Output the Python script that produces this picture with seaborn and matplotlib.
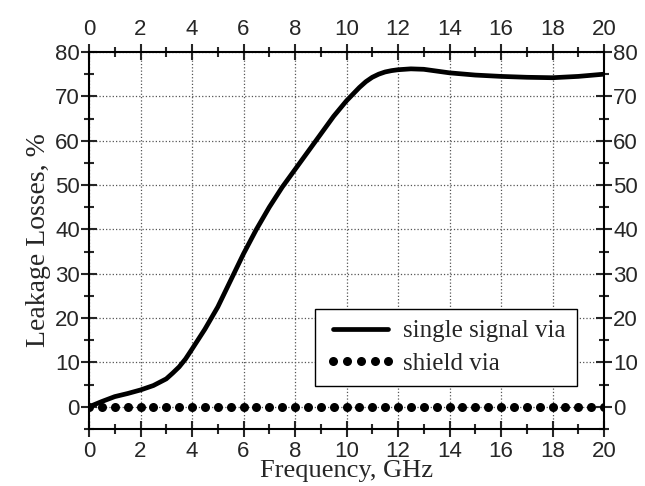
import numpy as np
import pandas as pd
import matplotlib
matplotlib.use("Agg")
import matplotlib.pyplot as plt
import seaborn as sns
from matplotlib.ticker import MultipleLocator

# 데이터
freq_signal = [0, 0.25, 0.5, 1, 1.5, 2, 2.5, 3, 3.25, 3.5, 3.75, 4, 4.5, 5, 5.5, 6, 6.5, 7,
               7.5, 8, 8.5, 9, 9.5, 10, 10.5, 10.75, 11, 11.25, 11.5, 11.75, 12, 12.5, 13,
               14, 15, 16, 17, 18, 19, 20]
loss_signal = [0, 0.6, 1.2, 2.3, 3.0, 3.8, 4.8, 6.3, 7.6, 9.0, 10.8, 13.0, 17.5, 22.5, 28.5,
               34.5, 40.0, 45.0, 49.5, 53.5, 57.5, 61.5, 65.5, 69.0, 72.0, 73.3, 74.3, 75.0,
               75.5, 75.8, 76.0, 76.2, 76.1, 75.3, 74.8, 74.5, 74.3, 74.2, 74.5, 75.0]
freq_shield = [0, 0.5, 1, 1.5, 2, 2.5, 3, 3.5, 4, 4.5, 5, 5.5, 6, 6.5, 7, 7.5, 8, 8.5, 9, 9.5,
               10, 10.5, 11, 11.5, 12, 12.5, 13, 13.5, 14, 14.5, 15, 15.5, 16, 16.5, 17, 17.5,
               18, 18.5, 19, 19.5, 20]
loss_shield = [0] * len(freq_shield)

sns.set_style("ticks")
plt.rcParams['font.family'] = ['Liberation Sans', 'DejaVu Sans']

fig = plt.figure(figsize=(6.45, 4.86), dpi=100)
ax = fig.add_axes([89 / 645, 1 - 429 / 486, (604 - 89) / 645, (429 - 52) / 486])

sns.lineplot(x=freq_signal, y=loss_signal, ax=ax, color='black', linewidth=3.4,
             solid_joinstyle='round', solid_capstyle='round', label='single signal via')
sns.lineplot(x=freq_shield, y=loss_shield, ax=ax, color='black', linestyle='none',
             marker='o', markersize=6.5, markeredgewidth=0, label='shield via')

ax.set_xlim(0, 20)
ax.set_ylim(-5, 80)
ax.xaxis.set_major_locator(MultipleLocator(2))
ax.xaxis.set_minor_locator(MultipleLocator(1))
ax.yaxis.set_major_locator(MultipleLocator(10))
ax.yaxis.set_minor_locator(MultipleLocator(5))
ax.set_yticks(np.arange(0, 81, 10))

ax.grid(True, which='major', linestyle=':', color='#555555', linewidth=0.9)
for sp in ax.spines.values():
    sp.set_linewidth(1.5)
    sp.set_color('black')

ax.tick_params(which='both', direction='inout', top=True, right=True,
               labeltop=True, labelright=True, width=1.5, labelsize=16)
ax.tick_params(which='major', length=11)
ax.tick_params(which='minor', length=7)
ax.tick_params(axis='x', which='major', pad=3)
ax.tick_params(axis='y', which='major', pad=1)

serif = ['Liberation Serif', 'DejaVu Serif']
ax.set_xlabel('Frequency, GHz', family=serif, fontsize=19, labelpad=-1)
ax.set_ylabel('Leakage Losses, %', family=serif, fontsize=20, labelpad=3)

leg = ax.legend(loc='lower right', bbox_to_anchor=(0.948, 0.114), frameon=True,
                fancybox=False, edgecolor='black', framealpha=1, borderpad=0.45,
                handlelength=2.8, handletextpad=0.3, labelspacing=0.4, numpoints=5,
                borderaxespad=0, prop={'family': serif, 'size': 18})
leg.get_frame().set_linewidth(1.0)

fig.savefig('out.png', dpi=100)
